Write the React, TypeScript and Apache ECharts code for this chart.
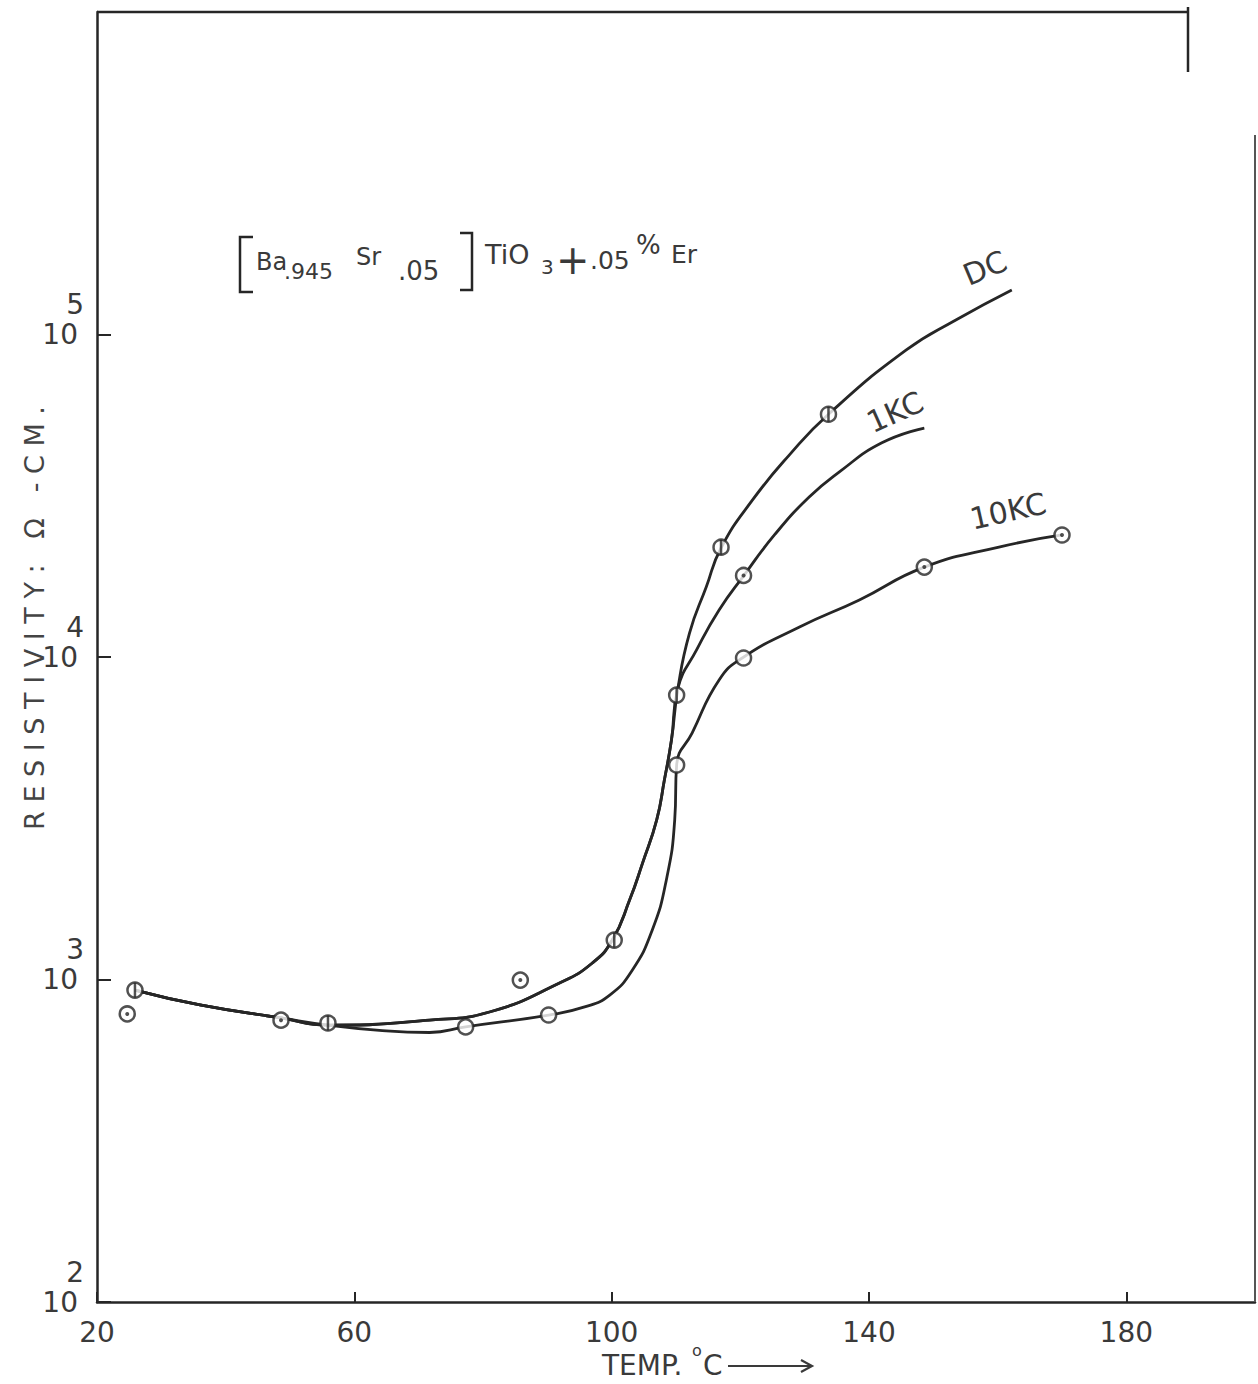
import React, { useEffect, useRef } from "react";
import * as echarts from "echarts";

// ---- data (x: °C, y: resistivity Ω-cm) ----
const xTickValues = [20, 60, 100, 140, 180];

// measured points, grouped by the marker drawn on them
const barMarked = [[25.9, 927], [55.9, 733], [100.4, 1325], [110.1, 7620], [117.0, 21900], [133.7, 56600]];
const dotMarked = [[24.7, 782], [48.6, 748], [85.8, 996], [120.5, 17900], [148.6, 19000], [170.0, 23900]];
const openMarked = [[77.3, 713], [90.2, 776], [110.1, 4625], [120.5, 9930]];

// hand-drawn curves
const lowBranch = [[25.9, 927], [36.0, 834], [48.6, 760], [55.9, 722]];
const dcMid = [[71.7, 748], [81.0, 793], [91.9, 975], [97.0, 1125], [100.1, 1325], [102.8, 1766], [104.8, 2296], [107.0, 3126], [108.2, 4160], [109.3, 5536], [110.3, 8000]];
const dcTop = [[112.1, 11860], [114.7, 16480], [117.0, 21780], [121.9, 30690], [127.6, 42270], [133.7, 56600], [145.8, 89550], [153.5, 110900], [162.2, 137400]];
const kc1Top = [[113.2, 10520], [116.7, 13990], [120.6, 17950], [125.3, 23900], [130.7, 31330], [135.4, 37500], [142.0, 46150], [148.6, 51290]];
const kc10Curve = [[63.9, 695], [71.7, 685], [77.3, 713], [90.2, 776], [95.8, 822], [99.7, 895], [103.2, 1069], [106.3, 1422], [108.5, 2036], [109.8, 3126], [110.1, 4625], [112.5, 5808], [116.7, 8490], [120.3, 9930], [129.2, 12390], [138.5, 15030], [148.6, 19000], [160.2, 21930], [170.0, 23900]];

const FONT = '"DejaVu Sans", sans-serif';
const INK = "#262626";
const TXT = "#3a3a3a";

function txt(text: string, x: number, y: number, size: number, extra: any = {}) {
  return {
    type: "text",
    x,
    y,
    rotation: extra.rotation || 0,
    style: {
      text,
      font: `${size}px ${FONT}`,
      fill: extra.fill || TXT,
      align: extra.align || "left",
      verticalAlign: "middle",
    },
    z: 10,
  };
}

function seg(points: number[][], width = 2.5, color = INK) {
  return {
    type: "polyline",
    shape: { points },
    style: { stroke: color, lineWidth: width, fill: null },
    z: 10,
  };
}

export default function App() {
  const ref = useRef<HTMLDivElement>(null);
  useEffect(() => {
    if (!ref.current) return;
    const chart = echarts.init(ref.current, null, { renderer: "svg" });
    const lineSeries = (name: string, data: number[][]) => ({
      name,
      type: "line",
      data,
      smooth: 0.5,
      showSymbol: false,
      lineStyle: { color: INK, width: 2.8 },
      z: 2,
    });
    const option: any = {
      animation: false,
      backgroundColor: "#ffffff",
      grid: { left: 97, right: 3, top: 12, bottom: 82, containLabel: false, outerBoundsMode: "none" },
      xAxis: {
        type: "value",
        min: 20,
        max: 200,
        axisLine: { show: true, lineStyle: { color: INK, width: 2.5 } },
        axisTick: { show: true, inside: true, length: 10, customValues: xTickValues, lineStyle: { color: INK, width: 2 } },
        axisLabel: {
          customValues: xTickValues,
          margin: 16,
          fontFamily: FONT,
          fontSize: 28,
          color: TXT,
        },
        splitLine: { show: false },
      },
      yAxis: {
        type: "log",
        logBase: 10,
        min: 100,
        max: 1000000,
        axisLine: { show: true, lineStyle: { color: INK, width: 2.5 } },
        axisTick: { show: true, inside: true, length: 14, lineStyle: { color: INK, width: 2 } },
        minorTick: { show: false },
        splitLine: { show: false },
        axisLabel: {
          margin: 13,
          padding: [0, 0, 32, 0],
          formatter: (v: number) => {
            const e = Math.round(Math.log10(v));
            if (e >= 6) return "";
            return `{e|${e}}\n{b|10}`;
          },
          rich: {
            e: { fontFamily: FONT, fontSize: 28, lineHeight: 32, color: TXT },
            b: { fontFamily: FONT, fontSize: 28, lineHeight: 28, color: TXT, padding: [0, 6, 0, 0] },
          },
        },
      },
      series: [
        lineSeries("DC", [...lowBranch, ...dcMid, ...dcTop]),
        lineSeries("1KC", [...lowBranch, ...dcMid, ...kc1Top]),
        lineSeries("10KC", [...lowBranch, ...kc10Curve]),
        {
          name: "points",
          type: "scatter",
          data: [...barMarked, ...dotMarked, ...openMarked],
          symbol: "circle",
          symbolSize: 15,
          itemStyle: { color: "#ffffff", borderColor: INK, borderWidth: 2.5 },
          z: 4,
        },
        {
          name: "dots",
          type: "scatter",
          data: dotMarked,
          symbol: "circle",
          symbolSize: 4,
          itemStyle: { color: INK },
          z: 5,
        },
        {
          name: "bars",
          type: "scatter",
          data: barMarked,
          symbol: "rect",
          symbolSize: [2.5, 15],
          itemStyle: { color: INK },
          z: 5,
        },
      ],
      graphic: [
        // frame top and right
        seg([[97, 12], [1189, 12]]),
        seg([[1188, 7], [1188, 72]]),
        seg([[1255, 135], [1255, 1302]], 2, "#555"),
        // composition label
        seg([[253, 237], [240, 237], [240, 292], [253, 292]]),
        seg([[460, 233], [472, 233], [472, 290], [460, 290]]),
        txt("Ba", 256, 262, 24),
        txt(".945", 284, 271, 22),
        txt("Sr", 356, 257, 24),
        txt(".05", 398, 271, 26),
        txt("TiO", 485, 254, 27),
        txt("3", 541, 267, 20),
        txt("+", 556, 260, 40),
        txt(".05", 590, 260, 25),
        txt("%", 636, 245, 26),
        txt("Er", 671, 254, 25),
        // curve labels
        txt("DC", 985, 268, 30, { align: "center", rotation: 0.4 }),
        txt("1KC", 895, 412, 30, { align: "center", rotation: 0.42 }),
        txt("10KC", 1008, 511, 30, { align: "center", rotation: 0.22 }),
        // axis titles
        txt("R E S I S T I V I T Y :   Ω   - C M .", 34, 618, 27, { align: "center", rotation: Math.PI / 2, fill: "#444" }),
        txt("TEMP.", 602, 1365, 28),
        txt("o", 692, 1350, 16),
        txt("C", 703, 1365, 28),
        seg([[728, 1366], [812, 1366]], 2.2, TXT),
        seg([[801, 1360], [812, 1366], [801, 1372]], 2.2, TXT),
      ],
    };
    chart.setOption(option);
    return () => chart.dispose();
  }, []);
  return (
    <div
      ref={ref}
      style={{ position: "fixed", left: 0, top: 0, width: 1258, height: 1384, background: "#fff" }}
    />
  );
}
